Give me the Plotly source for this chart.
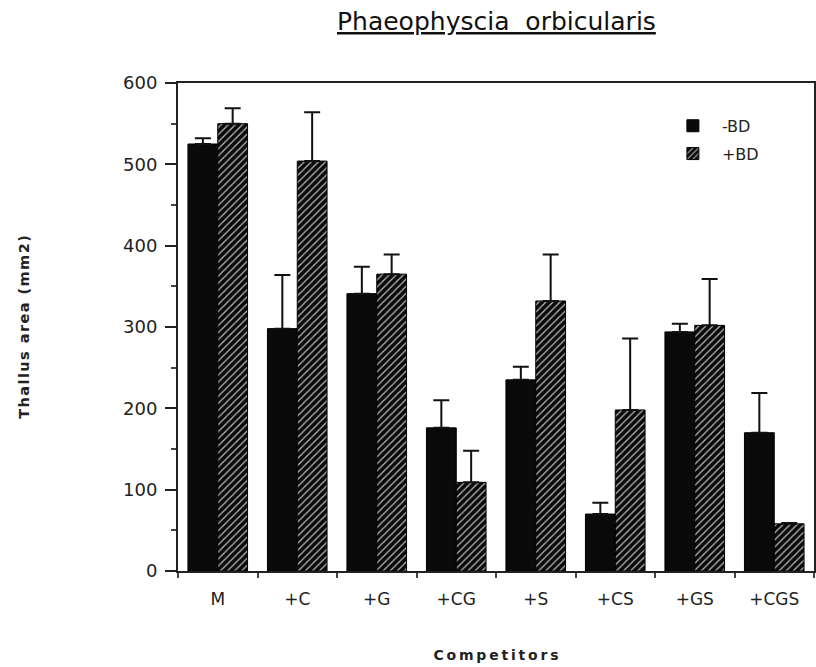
import plotly.graph_objects as go

categories = ["M", "+C", "+G", "+CG", "+S", "+CS", "+GS", "+CGS"]
minus_bd = [525, 298, 341, 176, 235, 70, 294, 170]
minus_bd_top = [532, 364, 374, 210, 251, 84, 304, 219]
plus_bd = [550, 504, 365, 109, 332, 198, 302, 58]
plus_bd_top = [569, 564, 389, 148, 389, 286, 359, 59]

FONT = "DejaVu Sans"
HS = "\u200a"


def spaced(s, sep):
    return sep.join(list(s))


fig = go.Figure()
fig.add_trace(go.Bar(
    x=categories, y=minus_bd, name="-BD", legendgroup="a",
    marker=dict(color="#0a0a0a", line=dict(color="black", width=1)),
    error_y=dict(type="data", symmetric=False,
                 array=[t - v for t, v in zip(minus_bd_top, minus_bd)],
                 arrayminus=[0] * len(minus_bd),
                 color="#111111", thickness=2, width=8),
))
fig.add_trace(go.Bar(
    x=categories, y=plus_bd, name="+BD", legendgroup="b",
    marker=dict(color="#0a0a0a", line=dict(color="black", width=1),
                pattern=dict(shape="/", fgcolor="#b8b8b8", bgcolor="#0a0a0a",
                             size=5, solidity=0.25, fillmode="replace")),
    error_y=dict(type="data", symmetric=False,
                 array=[t - v for t, v in zip(plus_bd_top, plus_bd)],
                 arrayminus=[0] * len(plus_bd),
                 color="#111111", thickness=2, width=8),
))

fig.update_layout(
    width=816, height=667,
    margin=dict(l=178, r=0, t=83, b=96),
    paper_bgcolor="white", plot_bgcolor="white",
    barmode="group", bargap=0.25, bargroupgap=0,
    font=dict(family=FONT, color="#222222"),
    showlegend=True,
    legend=dict(x=0.764, y=0.947, xanchor="left", yanchor="top",
                font=dict(size=16, family=FONT, color="#222222"),
                bgcolor="rgba(0,0,0,0)", tracegroupgap=4, itemwidth=48),
    xaxis=dict(
        showline=True, linecolor="#222222", linewidth=2, mirror=True,
        ticks="outside", tickson="boundaries", ticklen=5, tickwidth=2, tickcolor="#444444",
        ticklabelstandoff=12,
        tickfont=dict(size=17, family=FONT, color="#222222"),
        showgrid=False, zeroline=False,
        title=dict(text="<b>" + spaced("Competitors", "\u2009") + "</b>",
                   font=dict(size=14, family=FONT, color="#222222"), standoff=42),
    ),
    yaxis=dict(
        range=[0, 600], dtick=100, tick0=0,
        showline=True, linecolor="#222222", linewidth=2, mirror=True,
        ticks="outside", ticklen=11, tickwidth=2, tickcolor="#222222",
        ticklabelstandoff=4,
        minor=dict(dtick=50, ticks="outside", ticklen=5, tickwidth=2, tickcolor="#444444"),
        tickfont=dict(size=18, family=FONT, color="#222222"),
        showgrid=False, zeroline=False,
        title=dict(text="<b>" + spaced("Thallus area (mm2)", HS) + "</b>",
                   font=dict(size=14.5, family=FONT, color="#222222"), standoff=90),
    ),
    annotations=[dict(
        text="<u>Phaeophyscia  orbicularis</u>", xref="paper", yref="paper",
        x=(497 - 178) / 638, y=1.0, yshift=62, xanchor="center", yanchor="middle",
        showarrow=False, font=dict(size=25, family=FONT, color="#111111"),
    )],
)

fig.write_html("out.html")
